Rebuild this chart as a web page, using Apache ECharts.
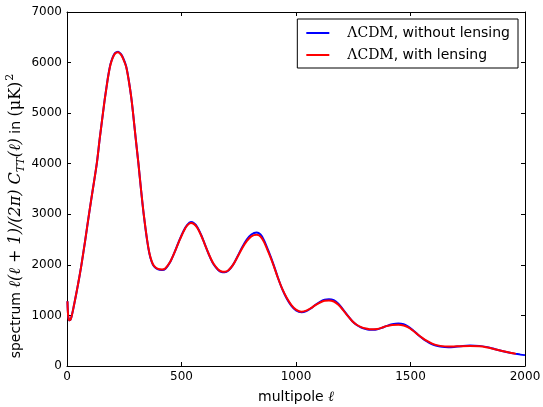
<!DOCTYPE html>
<html>
<head>
<meta charset="utf-8">
<script src="https://cdn.jsdelivr.net/npm/echarts@6/dist/echarts.min.js"></script>
<style>
  html, body { margin: 0; padding: 0; background: #fff; }
  #main { width: 543px; height: 407px; }
</style>
</head>
<body>
<div id="main"></div>
<script>
// multipoles (x) and the two spectra
var ell = [2, 3, 4, 5, 6, 8, 10, 12, 15, 20, 25, 30, 40, 50, 63, 80, 96, 113, 130, 143,
    157, 165, 172, 180, 190, 200, 210, 223, 235, 245, 258, 270, 280, 288, 300, 312, 323, 335, 350, 360, 370,
    380, 395, 415, 430, 450, 470, 490, 510, 525, 541, 555, 570, 585, 600, 620, 640, 660,
    675, 689, 705, 725, 745, 765, 785, 805, 828, 845, 860, 880, 900, 920, 940, 960, 980, 1000, 1024, 1045,
    1065, 1085, 1105, 1125, 1144, 1165, 1185, 1205, 1225, 1245, 1265, 1285, 1305, 1320, 1337, 1355, 1375, 1395, 1420, 1447,
    1470, 1490, 1510, 1530, 1550, 1570, 1590, 1610, 1630, 1650, 1665, 1690, 1720, 1760, 1800, 1830, 1860, 1900, 1940, 1960,
    1980, 2000];

var noLensing = [1280, 1150, 1060, 1000, 960, 920, 905, 900, 915, 980, 1080, 1190, 1420, 1660, 2000, 2500, 3000, 3500, 4000, 4500,
    5000, 5280, 5500, 5740, 5970, 6110, 6190, 6215, 6170, 6090, 5930, 5640, 5330, 5020, 4500, 4000, 3500, 3000, 2480, 2220, 2060,
    1970, 1915, 1900, 1925, 2050, 2250, 2480, 2680, 2790, 2845, 2820, 2740, 2600, 2430, 2200, 2010, 1900,
    1860, 1855, 1890, 2000, 2170, 2350, 2500, 2600, 2640, 2600, 2490, 2270, 2030, 1760, 1520, 1330, 1190, 1100, 1063, 1085,
    1140, 1210, 1270, 1310, 1320, 1300, 1230, 1120, 1000, 890, 810, 760, 730, 718, 715, 725, 755, 790, 825, 840,
    825, 780, 710, 630, 555, 490, 440, 405, 385, 375, 373, 378, 392, 405, 398, 378, 345, 295, 255, 240,
    225, 215];

var withLensing = [1280, 1150, 1060, 1000, 960, 920, 905, 900, 915, 980, 1080, 1190, 1420, 1660, 2000, 2500, 3000, 3500, 4000, 4500,
    5000, 5275, 5490, 5730, 5960, 6100, 6180, 6205, 6160, 6080, 5920, 5635, 5330, 5020, 4500, 4000, 3500, 3005, 2490, 2230, 2070,
    1980, 1925, 1910, 1935, 2055, 2250, 2470, 2670, 2780, 2830, 2805, 2725, 2590, 2425, 2205, 2020, 1910,
    1870, 1865, 1895, 2000, 2160, 2330, 2470, 2565, 2595, 2560, 2455, 2245, 2015, 1755, 1525, 1345, 1205, 1115, 1075, 1095,
    1145, 1205, 1255, 1290, 1295, 1275, 1210, 1110, 995, 890, 815, 768, 740, 728, 725, 733, 758, 788, 810, 815,
    802, 765, 703, 630, 560, 500, 452, 418, 398, 388, 385, 388, 393, 396, 390, 372, 342, 295, 258, 243];

var xTicks = [0, 500, 1000, 1500, 2000];
var yTicks = [0, 1000, 2000, 3000, 4000, 5000, 6000, 7000];

function pairs(vals) {
    var out = [];
    for (var i = 0; i < vals.length; i++) {
        out.push([ell[i], vals[i]]);
    }
    return out;
}

var myChart = echarts.init(document.getElementById('main'));

var tickFont = {fontFamily: 'DejaVu Sans', fontSize: 12, color: '#000'};
var inTick = {show: true, inside: true, length: 4, lineStyle: {color: '#000', width: 1}};
var blackLine = {show: true, onZero: false, lineStyle: {color: '#000', width: 1}};

var option = {
    animation: false,
    backgroundColor: '#fff',
    grid: {left: 67, right: 18, top: 12, bottom: 41, containLabel: false, outerBoundsMode: 'none'},
    legend: {
        right: 25,
        top: 19,
        orient: 'vertical',
        icon: 'rect',
        itemWidth: 23,
        itemHeight: 2,
        itemGap: 8,
        padding: [7, 8, 6, 9],
        borderColor: '#000',
        borderWidth: 1,
        borderRadius: 0,
        backgroundColor: '#fff',
        data: ['noLensing', 'withLensing'],
        formatter: function (name) {
            return name === 'noLensing'
                ? '{m|ΛCDM}{t|, without lensing}'
                : '{m|ΛCDM}{t|, with lensing}';
        },
        textStyle: {
            rich: {
                m: {fontFamily: 'DejaVu Serif', fontSize: 14, color: '#000', padding: [0, 0, 0, 13]},
                t: {fontFamily: 'DejaVu Sans', fontSize: 14, color: '#000'}
            }
        }
    },
    xAxis: [
        {
            type: 'value',
            min: 0,
            max: 2000,
            interval: 500,
            name: '{t|multipole }{m|ℓ}',
            nameLocation: 'middle',
            nameGap: 24,
            nameTextStyle: {
                rich: {
                    t: {fontFamily: 'DejaVu Sans', fontSize: 14, color: '#000'},
                    m: {fontFamily: 'DejaVu Serif', fontStyle: 'italic', fontSize: 14, color: '#000'}
                }
            },
            axisLine: blackLine,
            axisTick: inTick,
            axisLabel: Object.assign({margin: 5, formatter: function (v) { return xTicks.indexOf(v) >= 0 ? String(v) : ''; }}, tickFont),
            splitLine: {show: false}
        },
        {
            type: 'value',
            position: 'top',
            min: 0,
            max: 2000,
            interval: 500,
            axisLine: blackLine,
            axisTick: inTick,
            axisLabel: {show: false},
            splitLine: {show: false}
        }
    ],
    yAxis: [
        {
            type: 'value',
            min: 0,
            max: 7000,
            interval: 1000,
            name: '{t|spectrum }{m|ℓ(ℓ + 1)/(2π) C}{s|TT}{m|(ℓ)}{t| in }{r|(μK)}{p|2}',
            nameLocation: 'middle',
            nameRotate: 90,
            nameGap: 40,
            nameMoveOverlap: false,
            nameTextStyle: {
                padding: [0, 54, 0, 0],
                rich: {
                    t: {fontFamily: 'DejaVu Sans', fontSize: 14, color: '#000', lineHeight: 22},
                    m: {fontFamily: 'DejaVu Serif', fontStyle: 'italic', fontSize: 16, color: '#000', lineHeight: 22},
                    r: {fontFamily: 'DejaVu Serif', fontSize: 16, color: '#000', lineHeight: 22},
                    s: {fontFamily: 'DejaVu Serif', fontStyle: 'italic', fontSize: 11, color: '#000', verticalAlign: 'bottom', lineHeight: 22, padding: [6, 0, 0, 0]},
                    p: {fontFamily: 'DejaVu Serif', fontSize: 11, color: '#000', verticalAlign: 'top', lineHeight: 22, padding: [0, 0, 6, 1]}
                }
            },
            axisLine: blackLine,
            axisTick: inTick,
            axisLabel: Object.assign({margin: 5, formatter: function (v) { return yTicks.indexOf(v) >= 0 ? String(v) : ''; }}, tickFont),
            splitLine: {show: false}
        },
        {
            type: 'value',
            position: 'right',
            min: 0,
            max: 7000,
            interval: 1000,
            axisLine: blackLine,
            axisTick: inTick,
            axisLabel: {show: false},
            splitLine: {show: false}
        }
    ],
    series: [
        {
            name: 'noLensing',
            type: 'line',
            xAxisIndex: 0,
            yAxisIndex: 0,
            data: pairs(noLensing),
            smooth: 0.3,
            symbol: 'none',
            color: '#0000ff',
            lineStyle: {color: '#0000ff', width: 2}
        },
        {
            name: 'withLensing',
            type: 'line',
            xAxisIndex: 0,
            yAxisIndex: 0,
            data: pairs(withLensing),
            smooth: 0.3,
            symbol: 'none',
            color: '#ff0000',
            lineStyle: {color: '#ff0000', width: 2}
        }
    ]
};

myChart.setOption(option);
</script>
</body>
</html>
